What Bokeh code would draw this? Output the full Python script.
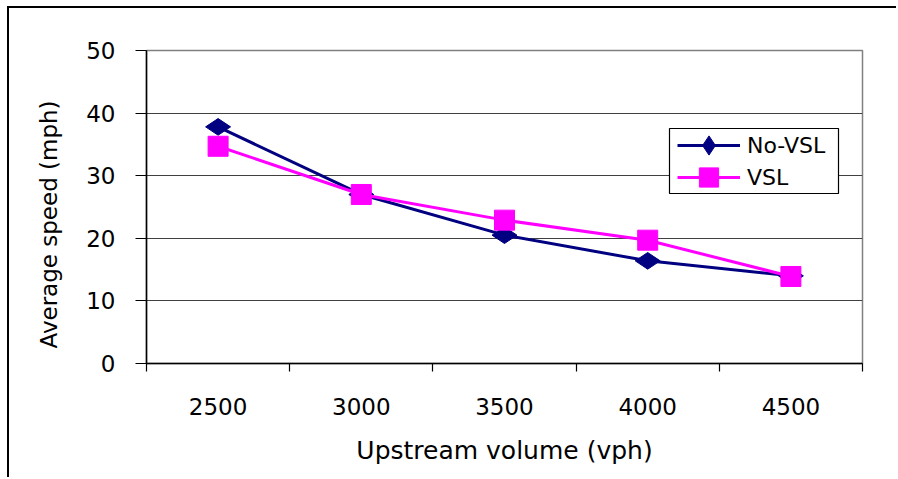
from bokeh.plotting import figure
from bokeh.models import Range1d, FixedTicker, Legend, LegendItem, BoxAnnotation, Title
from bokeh.embed import file_html
from bokeh.resources import INLINE

# ---- data ----
volumes = [2500, 3000, 3500, 4000, 4500]
tick_edges = [2250, 2750, 3250, 3750, 4250, 4750]
no_vsl = [37.8, 27.0, 20.5, 16.4, 14.0]
vsl = [34.7, 27.0, 22.9, 19.7, 13.9]
y_ticks = [0, 10, 20, 30, 40, 50]

NAVY = "#000080"
MAGENTA = "#FF00FF"
FONT = "DejaVu Sans"

p = figure(width=889, height=471,
           x_range=Range1d(2250, 4750), y_range=Range1d(0, 50),
           output_backend="svg", toolbar_location=None,
           min_border_left=137, min_border_right=36,
           min_border_top=42, min_border_bottom=116)
p.styles = {"margin-left": "7px", "margin-top": "6px",
            "border-left": "2px solid black", "border-top": "2px solid black"}

p.background_fill_color = "white"
p.border_fill_color = "white"
p.outline_line_color = "#808080"
p.outline_line_width = 1.5

# axes
p.xaxis.ticker = FixedTicker(ticks=volumes, minor_ticks=tick_edges)
p.xaxis.major_tick_out = 0
p.xaxis.major_tick_in = 0
p.xaxis.minor_tick_out = 8
p.xaxis.minor_tick_in = 0
p.xaxis.minor_tick_line_color = "black"
p.xaxis.major_label_standoff = 26
p.xaxis.axis_label = "Upstream volume (vph)"
p.xaxis.axis_label_standoff = 18

p.yaxis.ticker = FixedTicker(ticks=y_ticks)
p.yaxis.major_tick_out = 11
p.yaxis.major_tick_in = 0
p.yaxis.minor_tick_out = 0
p.yaxis.minor_tick_in = 0
p.yaxis.major_label_standoff = 20

for ax in (p.xaxis, p.yaxis):
    ax.axis_line_color = "black"
    ax.axis_line_width = 1.5
    ax.major_tick_line_color = "black"
    ax.major_tick_line_width = 1.2
    ax.minor_tick_line_width = 1.2
    ax.major_label_text_font = FONT
    ax.major_label_text_font_size = "23px"
    ax.major_label_text_color = "black"
    ax.axis_label_text_font = FONT
    ax.axis_label_text_font_style = "normal"
    ax.axis_label_text_color = "black"
p.xaxis.axis_label_text_font_size = "25px"

# y-axis title (starts a little above the frame bottom, like the original)
ytitle = Title(text="Average speed (mph)", align="left", offset=15,
               vertical_align="bottom", standoff=44,
               text_font=FONT, text_font_size="23px",
               text_font_style="normal", text_color="black")
p.add_layout(ytitle, "left")

p.xgrid.visible = False
p.ygrid.ticker = FixedTicker(ticks=y_ticks)
p.ygrid.grid_line_color = "#404040"
p.ygrid.grid_line_width = 1

# series
l1 = p.line(volumes, no_vsl, line_color=NAVY, line_width=3)
s1 = p.scatter(volumes, no_vsl, marker="diamond", angle=1.5708, size=25,
               fill_color=NAVY, line_color=NAVY)
l2 = p.line(volumes, vsl, line_color=MAGENTA, line_width=3)
s2 = p.scatter(volumes, vsl, marker="square", size=20,
               fill_color=MAGENTA, line_color=MAGENTA)

# legend box
box = BoxAnnotation(left=523, right=692, bottom=170, top=235,
                    left_units="screen", right_units="screen",
                    bottom_units="screen", top_units="screen",
                    fill_color="white", fill_alpha=1.0,
                    line_color="black", line_alpha=1.0, line_width=1.2)
p.add_layout(box)

legend_kw = dict(padding=0, spacing=0, glyph_width=63, glyph_height=48,
                 label_height=48, label_standoff=7, margin=0,
                 label_text_font=FONT, label_text_font_size="22px",
                 label_text_color="black",
                 border_line_alpha=0, background_fill_alpha=0)
leg1 = Legend(items=[LegendItem(label="No-VSL", renderers=[l1, s1])],
              location=(531, 194), **legend_kw)
leg2 = Legend(items=[LegendItem(label="VSL", renderers=[l2, s2])],
              location=(531, 162), **legend_kw)
p.add_layout(leg1)
p.add_layout(leg2)

open("out.html", "w").write(file_html(p, INLINE))
